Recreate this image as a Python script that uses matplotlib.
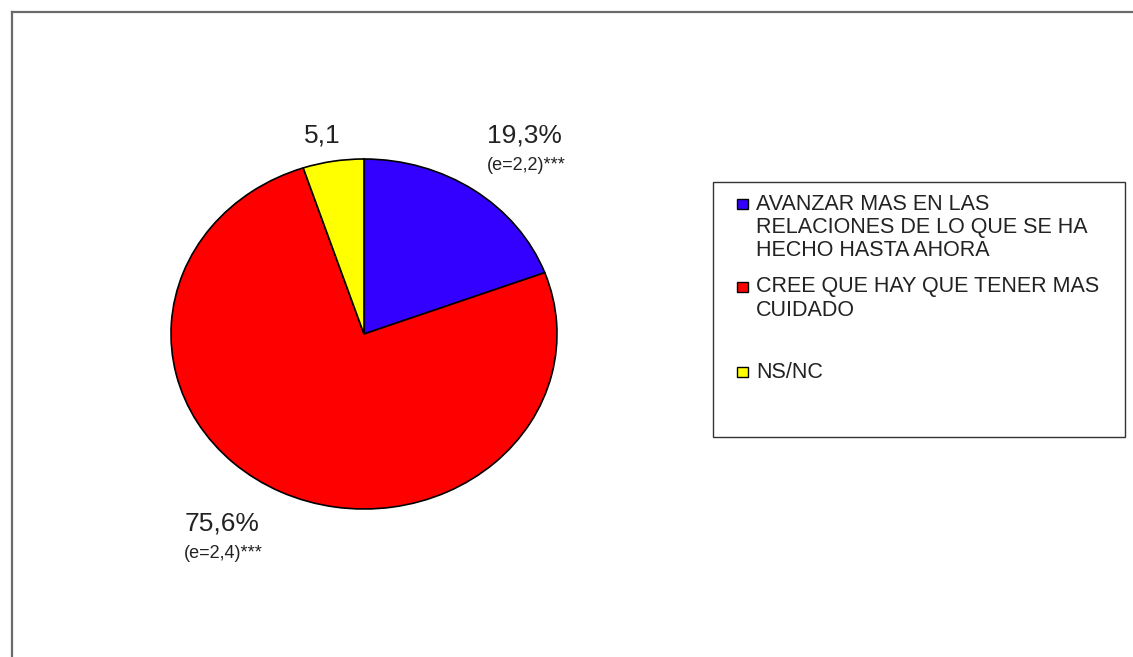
import matplotlib
matplotlib.use("Agg")
import matplotlib.pyplot as plt
from matplotlib.patches import Rectangle
from matplotlib.lines import Line2D

plt.rcParams['font.family'] = ['Liberation Sans', 'DejaVu Sans']

categories = [
    "AVANZAR MAS EN LAS\nRELACIONES DE LO QUE SE HA\nHECHO HASTA AHORA",
    "CREE QUE HAY QUE TENER MAS\nCUIDADO",
    "NS/NC",
]
values = [19.3, 75.6, 5.1]
colors = ["#3300ff", "#ff0000", "#ffff00"]
value_labels = ["19,3%", "75,6%", "5,1"]
error_labels = ["(e=2,2)***", "(e=2,4)***", ""]

W, H = 1133, 657
fig = plt.figure(figsize=(W / 100, H / 100), dpi=100)
fig.patch.set_facecolor("white")


def fx(x):
    return x / W


def fy(y):
    return 1 - y / H


# outer frame (top and left edges)
fig.add_artist(Line2D([fx(12), fx(12)], [fy(12), fy(657)], color="#6a6a6a", lw=1.6))
fig.add_artist(Line2D([fx(12), fx(1133)], [fy(12), fy(12)], color="#6a6a6a", lw=1.6))

# pie
pl, pr, pt, pb = 171, 557, 159, 509
ax = fig.add_axes([fx(pl), fy(pb), (pr - pl) / W, (pb - pt) / H])
ax.pie(values, colors=colors, startangle=90, counterclock=False,
       wedgeprops=dict(edgecolor="black", linewidth=1.2))
ax.set_aspect("auto")
ax.set_xlim(-1.0, 1.0)
ax.set_ylim(-1.0, 1.0)
ax.axis("off")

# value labels
txt = dict(color="#222222", ha="center", va="center")
fig.text(fx(524), fy(136), value_labels[0], fontsize=19, **txt)
fig.text(fx(526), fy(166), error_labels[0], fontsize=13, **txt)
fig.text(fx(222), fy(523), value_labels[1], fontsize=19, **txt)
fig.text(fx(223), fy(553), error_labels[1], fontsize=13, **txt)
fig.text(fx(322), fy(136), value_labels[2], fontsize=19, **txt)

# legend box
bx0, bx1, by0, by1 = 713, 1125, 182, 437
box = Rectangle((fx(bx0), fy(by1)), (bx1 - bx0) / W, (by1 - by0) / H,
                transform=fig.transFigure, facecolor="white", edgecolor="#333333", lw=1.0)
fig.add_artist(box)

entry_centers = [204, 287, 372]
line_gap = 23.5
for yc, label, color in zip(entry_centers, categories, colors):
    sq = Rectangle((fx(737), fy(yc + 5)), 11 / W, 10 / H, transform=fig.transFigure,
                   facecolor=color, edgecolor="black", lw=1.0)
    fig.add_artist(sq)
    for i, line in enumerate(label.split("\n")):
        t = fig.text(fx(756), fy(yc + i * line_gap), line, fontsize=15.5,
                     color="#222222", ha="left", va="center")
        t.set_clip_path(box)

fig.savefig("out.png", dpi=100, facecolor="white")
